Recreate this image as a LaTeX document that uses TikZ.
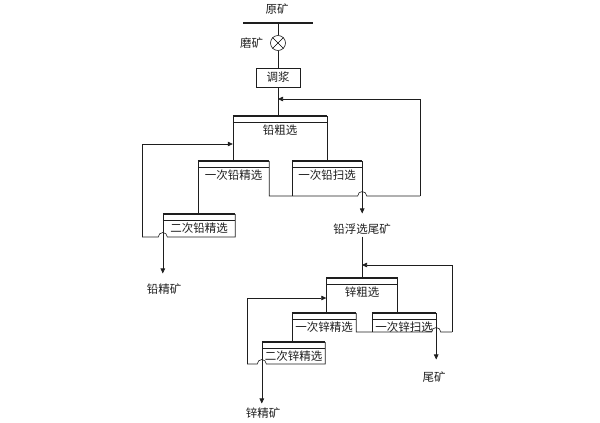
\documentclass[tikz,border=0pt]{standalone}
\usepackage{fontspec}
\usepackage{tikz}
\usetikzlibrary{arrows.meta,positioning,calc}
\newfontfamily\cjk{Noto Sans CJK SC}
\definecolor{flowgray}{HTML}{1E1E1E}

\begin{document}
\begin{tikzpicture}[
  x=1pt, y=-1pt,
  font=\cjk\fontsize{11.5}{13}\selectfont,
  >={Triangle[length=5pt,width=4.5pt]},
  cellbox/.style={
    minimum height=27pt,
    inner sep=0pt,
    anchor=north,
    text=flowgray
  },
  flowline/.style={
    line width=0.6pt,
    draw=flowgray
  },
  flowarrow/.style={
    flowline,
    ->
  },
  cellbar/.style={
    line width=2.4pt,
    draw=flowgray
  },
  outlabel/.style={
    inner sep=2pt,
    text=flowgray
  }
]
  \useasboundingbox (0,0) rectangle (600,423);

  % Feed: raw ore, grinding, conditioning
  \node[outlabel] (raw) at (277,9) {原矿};
  \node[fill=flowgray, minimum width=70pt, minimum height=2.5pt, inner sep=0pt] (feedbar) at (278,23) {};
  \node[draw=flowgray, line width=0.6pt, circle, minimum size=15pt, inner sep=0pt] (mill) at (278,43) {};
  \node[outlabel, left=5pt of mill] (millname) {磨矿};
  \node[draw=flowgray, line width=0.6pt, minimum width=44pt, minimum height=19pt, inner sep=0pt, text=flowgray] (cond) at (278,77.5) {调浆};

  % --- LEAD CIRCUIT ---
  \node[cellbox, minimum width=94pt] (pr) at (280,116) {铅粗选};
  \node[cellbox, minimum width=71pt] (pc1) at (233.5,161) {一次铅精选};
  \node[cellbox, minimum width=70pt] (ps) at (327,161) {一次铅扫选};
  \node[cellbox, minimum width=72pt] (pc2) at (199,214) {二次铅精选};
  \node[outlabel] (pconc) at (164,289) {铅精矿};
  \node[outlabel] (ptail) at (362,229) {铅浮选尾矿};

  % --- ZINC CIRCUIT ---
  \node[cellbox, minimum width=71pt] (zr) at (362,278) {锌粗选};
  \node[cellbox, minimum width=64pt] (zc1) at (324,313) {一次锌精选};
  \node[cellbox, minimum width=64pt] (zs) at (404,313) {一次锌扫选};
  \node[cellbox, minimum width=63pt] (zc2) at (293.5,342) {二次锌精选};
  \node[outlabel] (zconc) at (263,413) {锌精矿};
  \node[outlabel] (ztail) at (434,377) {尾矿};

  \coordinate (j1) at (278,99);
  \coordinate (r1) at (420,196);
  \coordinate (l1) at (142,237);
  \coordinate (j2) at (362,265);
  \coordinate (r2) at (452,332);
  \coordinate (l2) at (247,364);

  % Cell tops
  \foreach \c in {pr,pc1,ps,pc2,zr,zc1,zs,zc2} {
    \draw[cellbar] (\c.north west) -- (\c.north east);
    \draw[flowline] ([yshift=-6pt]\c.north west) -- ([yshift=-6pt]\c.north east);
  }

  % Feed line
  \draw (mill.45) -- (mill.225) (mill.135) -- (mill.315);
  \draw[flowline] (feedbar) -- (mill) -- (cond) -- (cond |- pr.north);

  % Lead connections
  \draw[flowline] (pr.north west) -- (pr.north west |- pc1.north);
  \draw[flowline] (pr.north east) -- (pr.north east |- ps.north);
  \draw[flowline] (pc1.north west) -- (pc1.north west |- pc2.north);
  \draw[flowline] (ps.north west) -- (ps.north west |- r1);
  \draw[flowline] (pc1.north east) |- ($(ps.north east |- r1)+(-4.5,0)$)
    arc[start angle=180, end angle=0, radius=4.5pt] -- (r1);
  \draw[flowarrow] (r1) |- (j1);
  \draw[flowarrow, shorten >=8pt] (ps.north east) -- (ps.north east |- ptail.north);
  \draw[flowline] (pc2.north east) |- ($(pc2.north west |- l1)+(4.5,0)$)
    arc[start angle=0, end angle=180, radius=4.5pt] -- (l1);
  \draw[flowarrow] (l1) |- ([yshift=-28pt]pr.north west);
  \draw[flowarrow, shorten >=8pt] (pc2.north west) -- (pc2.north west |- pconc.north);

  % Zinc connections
  \draw[flowline] (ptail.south) -- (ptail.south |- zr.north);
  \draw[flowline] (zr.north west) -- (zr.north west |- zc1.north);
  \draw[flowline] (zr.north east) -- (zr.north east |- zs.north);
  \draw[flowline] (zc1.north west) -- (zc1.north west |- zc2.north);
  \draw[flowline] (zs.north west) -- (zs.north west |- r2);
  \draw[flowline] (zc1.north east) |- ($(zs.north east |- r2)+(-4.5,0)$)
    arc[start angle=180, end angle=0, radius=4.5pt] -- (r2);
  \draw[flowarrow] (r2) |- (j2);
  \draw[flowarrow, shorten >=10pt] (zs.north east) -- (zs.north east |- ztail.north);
  \draw[flowline] (zc2.north east) |- ($(zc2.north west |- l2)+(4.5,0)$)
    arc[start angle=0, end angle=180, radius=4.5pt] -- (l2);
  \draw[flowarrow] (l2) |- ([yshift=-20pt]zr.north west);
  \draw[flowarrow, shorten >=2pt] (zc2.north west) -- (zc2.north west |- zconc.north);

\end{tikzpicture}
\end{document}
